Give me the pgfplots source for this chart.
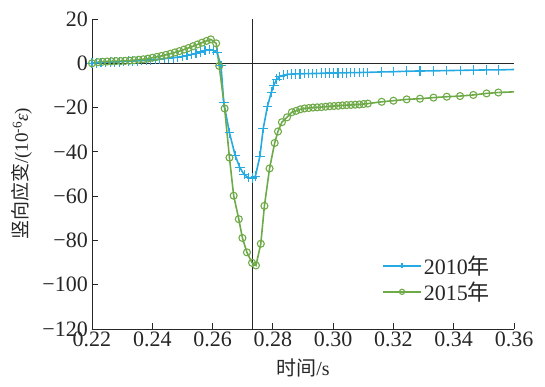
\documentclass[border=0pt]{standalone}
\usepackage{pgfplots}
\pgfplotsset{compat=1.18}
\usepackage{fontspec}
\setmainfont{Liberation Serif}
\newfontfamily\cjk{Noto Sans CJK SC}
\definecolor{cblue}{RGB}{38,170,226}
\definecolor{cgreen}{RGB}{111,170,72}

\pgfplotstableread{
x y
0.2200 0.0
0.2215 0.2
0.2230 0.3
0.2245 0.4
0.2260 0.5
0.2275 0.6
0.2290 0.7
0.2305 0.8
0.2320 0.9
0.2335 1.0
0.2350 1.1
0.2365 1.2
0.2380 1.3
0.2395 1.5
0.2410 1.7
0.2425 1.9
0.2440 2.1
0.2455 2.3
0.2470 2.5
0.2485 2.8
0.2500 3.1
0.2515 3.5
0.2530 4.0
0.2545 4.5
0.2560 5.1
0.2575 5.7
0.2590 6.2
0.2603 5.8
0.2615 4.8
0.2628 -1.0
0.2637 -17.7
0.2656 -31.4
0.2675 -41.6
0.2690 -47.0
0.2705 -50.3
0.2719 -51.6
0.2731 -51.8
0.2742 -51.0
0.2757 -42.0
0.2768 -29.5
0.2782 -19.5
0.2795 -13.0
0.2803 -9.9
0.2813 -7.2
0.2823 -6.0
0.2835 -5.4
0.2848 -5.0
0.2862 -4.9
0.2876 -4.8
0.2890 -4.8
0.2904 -4.7
0.2918 -4.7
0.2932 -4.6
0.2946 -4.6
0.2960 -4.5
0.2974 -4.5
0.2988 -4.4
0.3002 -4.4
0.3016 -4.3
0.3030 -4.3
0.3044 -4.3
0.3058 -4.2
0.3072 -4.2
0.3086 -4.2
0.3100 -4.1
0.3115 -4.1
0.3161 -3.9
0.3200 -3.8
0.3244 -3.6
0.3288 -3.5
0.3333 -3.4
0.3377 -3.3
0.3421 -3.2
0.3465 -3.1
0.3509 -3.0
0.3548 -3.0
}\dataA

\pgfplotstableread{
x y
0.2200 0.0
0.2220 0.5
0.2235 0.7
0.2250 0.8
0.2265 0.9
0.2280 1.0
0.2295 1.0
0.2310 1.1
0.2325 1.2
0.2340 1.4
0.2355 1.6
0.2370 1.8
0.2385 2.1
0.2400 2.5
0.2415 2.9
0.2430 3.3
0.2445 3.8
0.2460 4.3
0.2475 4.9
0.2490 5.5
0.2505 6.2
0.2520 6.9
0.2535 7.7
0.2550 8.5
0.2565 9.3
0.2580 10.1
0.2594 10.8
0.2612 9.0
0.2622 -1.2
0.2640 -20.4
0.2656 -42.6
0.2670 -59.8
0.2687 -70.4
0.2699 -78.9
0.2714 -85.4
0.2731 -90.1
0.2744 -91.3
0.2760 -81.5
0.2772 -64.4
0.2789 -47.5
0.2806 -36.0
0.2817 -30.8
0.2830 -26.6
0.2847 -24.4
0.2863 -22.1
0.2877 -21.5
0.2891 -20.8
0.2905 -20.4
0.2919 -20.2
0.2933 -20.0
0.2947 -19.9
0.2961 -19.8
0.2975 -19.6
0.2989 -19.4
0.3003 -19.3
0.3017 -19.2
0.3031 -19.0
0.3045 -18.9
0.3059 -18.8
0.3073 -18.7
0.3087 -18.6
0.3101 -18.4
0.3115 -18.2
0.3161 -17.4
0.3200 -16.9
0.3244 -16.3
0.3288 -16.0
0.3333 -15.5
0.3377 -15.1
0.3421 -14.8
0.3465 -14.3
0.3509 -13.6
0.3548 -13.2
}\dataB

\begin{document}
\begin{tikzpicture}
\begin{axis}[name=ax, scale only axis, width=422pt, height=310pt,
  xmin=0.22, xmax=0.36, ymin=-120, ymax=20,
  axis lines=left, axis line style={-, line width=0.8pt, black!85},
  tick align=inside, major tick length=6pt,
  tick style={black!85, line width=0.8pt},
  xtick={0.22,0.24,0.26,0.28,0.30,0.32,0.34,0.36},
  xticklabels={0.22,0.24,0.26,0.28,0.30,0.32,0.34,0.36},
  ytick={-120,-100,-80,-60,-40,-20,0,20},
  yticklabels={−120,−100,−80,−60,−40,−20,0,20},
  font=\fontsize{22}{26}\selectfont,
  tick label style={font=\fontsize{22}{26}\selectfont, black!85},
  xticklabel style={inner sep=2pt, yshift=-1pt},
  yticklabel style={inner sep=4pt},
  /pgf/number format/assume math mode=true,
  xlabel={{\cjk 时间}/s},
  xlabel style={font=\fontsize{20}{24}\selectfont, yshift=-6pt},
  ylabel={{\cjk 竖向应变}/(10\textsuperscript{-6}\textit{ε})},
  ylabel style={font=\fontsize{19}{24}\selectfont, yshift=3pt},
  label style={black!85},
  clip=false,
  legend cell align=left,
  legend style={draw=none, fill=none, at={(0.955,0.25)}, anchor=north east,
    font=\fontsize{22}{26}\selectfont, row sep=2pt, text=black!85},
  legend image code/.code={\draw[#1, mark size=2.6pt, mark repeat=2, mark phase=2]
    plot coordinates {(0pt,0pt) (19pt,0pt) (38pt,0pt)};},
]
\addplot[forget plot, black!85, line width=0.8pt] coordinates {(0.22,0) (0.36,0)};
\addplot[forget plot, black!85, line width=0.8pt] coordinates {(0.2733,-120) (0.2733,20)};
\addplot[cblue, line width=1.6pt, mark=+, mark size=4.8pt, mark options={line width=1.1pt}] table[x=x,y=y] {\dataA};
\addlegendentry{2010{\cjk 年}}
\addplot[cgreen, line width=1.6pt, mark=o, mark size=3.5pt, mark options={line width=1.1pt}] table[x=x,y=y] {\dataB};
\addlegendentry{2015{\cjk 年}}
\addplot[forget plot, cblue, line width=1.6pt] coordinates {(0.3548,-3.0) (0.3600,-2.8)};
\addplot[forget plot, cgreen, line width=1.6pt] coordinates {(0.3548,-13.2) (0.3600,-12.9)};
\end{axis}
\pgfresetboundingbox
\path[use as bounding box] ([xshift=-92pt,yshift=-58pt]ax.south west) rectangle ([xshift=31pt,yshift=19pt]ax.north east);
\end{tikzpicture}
\end{document}
